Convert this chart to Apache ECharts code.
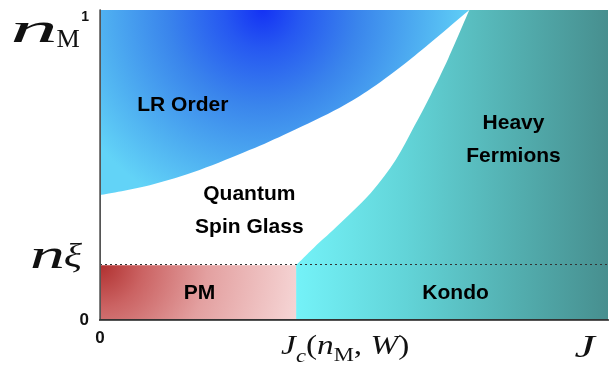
<!DOCTYPE html>
<html>
<head>
<meta charset="utf-8">
<script src="https://cdn.jsdelivr.net/npm/echarts@6/dist/echarts.min.js"></script>
<style>
  html, body { margin: 0; padding: 0; background: #fff; }
  #chart { width: 611px; height: 365px; }
</style>
</head>
<body>
<div id="chart"></div>
<script>
// Schematic phase diagram in the (J, n_M) plane, both axes normalised to [0, 1].
const nXi = 0.177;   // n_ξ : lower edge of the ordered / glassy phases
const Jc = 0.386;    // J_c(n_M, W)

// Lower edge of the long-range ordered phase
const lrBoundary = [
  [0.000, 0.403], [0.098, 0.435], [0.196, 0.484], [0.294, 0.548],
  [0.373, 0.606], [0.471, 0.684], [0.535, 0.748], [0.614, 0.845],
  [0.727, 1.000]
];
// Left edge of the heavy-fermion phase, from (J_c, n_ξ) up to n_M = 1
const hfBoundary = [
  [0.386, 0.177], [0.422, 0.235], [0.465, 0.300], [0.533, 0.410],
  [0.582, 0.516], [0.618, 0.623], [0.651, 0.726], [0.686, 0.845],
  [0.727, 1.000]
];
// Corners of the Kondo / heavy-fermion block, the PM rectangle and the LR block: [x0, y0, x1, y1]
const kondoRect = [Jc, 0, 1, 1];
const pmRect = [0, 0, Jc, nXi];
const lrTopLeft = [0, 1];

const yTickLabels = { 0: '0', 1: '1' };
const xTickLabels = { 0: '0' };

const phaseNames = ['LR Order', 'Quantum\nSpin Glass', 'Heavy\nFermions', 'PM', 'Kondo'];
const phaseLabelX = [0.163, 0.294, 0.814, 0.196, 0.700];
const phaseLabelY = [0.694, 0.352, 0.581, 0.087, 0.087];

const chart = echarts.init(document.getElementById('chart'));

function rectItem(fill) {
  return function (params, api) {
    const p0 = api.coord([api.value(0), api.value(1)]);
    const p1 = api.coord([api.value(2), api.value(3)]);
    return {
      type: 'rect',
      shape: { x: p0[0], y: p1[1], width: p1[0] - p0[0], height: p0[1] - p1[1] },
      style: { fill: fill }
    };
  };
}

// Smooth cubic path through a list of pixel points (Catmull-Rom)
function smoothThrough(pts) {
  let d = '';
  for (let i = 0; i < pts.length - 1; i++) {
    const p0 = pts[Math.max(i - 1, 0)], p1 = pts[i], p2 = pts[i + 1];
    const p3 = pts[Math.min(i + 2, pts.length - 1)];
    const c1 = [p1[0] + (p2[0] - p0[0]) / 6, p1[1] + (p2[1] - p0[1]) / 6];
    const c2 = [p2[0] - (p3[0] - p1[0]) / 6, p2[1] - (p3[1] - p1[1]) / 6];
    d += ' C' + c1[0] + ' ' + c1[1] + ' ' + c2[0] + ' ' + c2[1] + ' ' + p2[0] + ' ' + p2[1];
  }
  return d;
}

const tealFill = {
  type: 'linear', x: 0, y: 0, x2: 1, y2: 0,
  colorStops: [
    { offset: 0, color: '#74f2f8' },
    { offset: 0.35, color: '#62d4d8' },
    { offset: 0.7, color: '#53afb0' },
    { offset: 1, color: '#478f8f' }
  ]
};
const blueFill = {
  type: 'radial', x: 0.44, y: 0.0, r: 1.15,
  colorStops: [
    { offset: 0, color: '#1432f4' },
    { offset: 0.18, color: '#2658f1' },
    { offset: 0.45, color: '#3a85ec' },
    { offset: 0.75, color: '#4fb0f1' },
    { offset: 1, color: '#62d3f7' }
  ]
};
const pmFill = {
  type: 'radial', x: 0, y: 0, r: 3.9,
  colorStops: [
    { offset: 0, color: '#b0302f' },
    { offset: 0.2, color: '#cb6363' },
    { offset: 0.5, color: '#e3a0a0' },
    { offset: 1, color: '#f8dcdc' }
  ]
};

const frameLine = { show: true, lineStyle: { color: '#555', width: 1 } };

chart.setOption({
  animation: false,
  grid: { left: 100, right: 1, top: 10, bottom: 45 },
  xAxis: [
    {
      type: 'value', min: 0, max: 1, interval: 1, z: 10,
      axisLine: { show: true, lineStyle: { color: '#333', width: 2 } },
      axisTick: { show: false },
      splitLine: { show: false },
      axisLabel: {
        margin: 10, fontSize: 17, fontWeight: 'bold', color: '#111',
        fontFamily: 'Liberation Sans',
        formatter: v => xTickLabels[v] || ''
      }
    },
    {
      type: 'value', min: 0, max: 1, position: 'top', z: 10,
      axisLine: frameLine, axisTick: { show: false },
      axisLabel: { show: false }, splitLine: { show: false }
    }
  ],
  yAxis: [
    {
      type: 'value', min: 0, max: 1, interval: 1, z: 10,
      axisLine: { show: true, lineStyle: { color: '#555', width: 1.5 } },
      axisTick: { show: false },
      splitLine: { show: false },
      axisLabel: {
        margin: 11, color: '#111', fontFamily: 'Liberation Sans', fontWeight: 'bold',
        formatter: v => v === 1 ? '{hi|' + yTickLabels[v] + '}' : '{lo|' + (yTickLabels[v] || '') + '}',
        rich: {
          hi: { fontSize: 14, fontWeight: 'bold', padding: [14, 0, 0, 0] },
          lo: { fontSize: 17, fontWeight: 'bold' }
        }
      }
    },
    {
      type: 'value', min: 0, max: 1, position: 'right', z: 10,
      axisLine: frameLine, axisTick: { show: false },
      axisLabel: { show: false }, splitLine: { show: false }
    }
  ],
  series: [
    {
      // Kondo (below n_ξ) and heavy fermions (right of the boundary) share one fill
      name: 'Heavy Fermions / Kondo', type: 'custom', silent: true,
      encode: { x: [0, 2], y: [1, 3] },
      data: [kondoRect],
      renderItem: function (params, api) {
        const x0 = api.value(0), y0 = api.value(1), x1 = api.value(2), y1 = api.value(3);
        const a = api.coord([x0, y0]);
        const edge = hfBoundary.map(p => api.coord(p));
        const b = api.coord([x1, y1]);
        const c = api.coord([x1, y0]);
        const d = 'M' + a[0] + ' ' + a[1] +
          ' L' + edge[0][0] + ' ' + edge[0][1] +
          smoothThrough(edge) +
          ' L' + b[0] + ' ' + b[1] +
          ' L' + c[0] + ' ' + c[1] + ' Z';
        return { type: 'path', shape: { pathData: d }, style: { fill: tealFill } };
      }
    },
    {
      // Long-range order: everything above its lower boundary
      name: 'LR Order', type: 'custom', silent: true,
      encode: { x: 0, y: 1 },
      data: [lrTopLeft],
      renderItem: function (params, api) {
        const corner = api.coord([api.value(0), api.value(1)]);
        const edge = lrBoundary.map(p => api.coord(p));
        const d = 'M' + corner[0] + ' ' + corner[1] +
          ' L' + edge[0][0] + ' ' + edge[0][1] +
          smoothThrough(edge) + ' Z';
        return { type: 'path', shape: { pathData: d }, style: { fill: blueFill } };
      }
    },
    {
      name: 'PM', type: 'custom', silent: true,
      renderItem: rectItem(pmFill),
      encode: { x: [0, 2], y: [1, 3] },
      data: [pmRect],
      markLine: {
        silent: true, symbol: 'none', label: { show: false },
        lineStyle: { type: [2, 3], color: '#333', width: 1.2 },
        data: [{ yAxis: nXi }]
      }
    },
    {
      name: 'phases', type: 'scatter', silent: true, z: 5,
      symbolSize: 0,
      itemStyle: { opacity: 1 },
      data: phaseNames.map((n, i) => ({ name: n, value: [phaseLabelX[i], phaseLabelY[i]] })),
      label: {
        show: true, position: 'inside', formatter: '{b}', opacity: 1,
        fontFamily: 'Liberation Sans', fontWeight: 'bold', fontSize: 21,
        lineHeight: 33, color: '#000', textBorderWidth: 0
      }
    }
  ]
});

// Axis symbols set in math type, anchored to the axis positions
const toPx = v => chart.convertToPixel({ gridIndex: 0 }, v);
const pTop = toPx([0, 1]);
const pXi = toPx([0, nXi]);
const pJc = toPx([Jc, 0]);
const pEnd = toPx([1, 0]);
const serif = 'Liberation Serif';

// Size and stretch a single glyph so its ink fills the box [left, top, right, bottom]
const probeCtx = document.createElement('canvas').getContext('2d');
function glyph(ch, italic, anchor, box) {
  const probe = 100;
  probeCtx.font = (italic ? 'italic ' : '') + probe + 'px "' + serif + '"';
  probeCtx.textBaseline = 'middle';
  probeCtx.textAlign = 'left';
  const m = probeCtx.measureText(ch);
  const inkH = m.actualBoundingBoxAscent + m.actualBoundingBoxDescent;
  const k = (box[3] - box[1]) / inkH;
  const inkW = (m.actualBoundingBoxLeft + m.actualBoundingBoxRight) * k;
  const sx = (box[2] - box[0]) / inkW;
  return {
    type: 'text', silent: true, z: 20,
    x: anchor[0] + box[0] + m.actualBoundingBoxLeft * k * sx,
    y: anchor[1] + box[3] - m.actualBoundingBoxDescent * k,
    scaleX: sx,
    style: {
      text: ch, fontFamily: serif, fontSize: probe * k,
      fontStyle: italic ? 'italic' : 'normal',
      fill: '#111', align: 'left', verticalAlign: 'middle'
    }
  };
}

chart.setOption({
  graphic: [
    glyph('n', true, pTop, [-87, 12, -46, 32]),
    glyph('M', false, pTop, [-43, 21, -21, 37]),
    glyph('n', true, pXi, [-68, -17, -38, 3]),
    glyph('ξ', true, pXi, [-35, -22, -18, 8]),
    {
      type: 'text', x: pJc[0] - 15, y: pJc[1] + 13, scaleX: 1.19, silent: true, z: 20,
      style: {
        text: '{i|J}{s|c}{r|(}{i|n}{sr|M}{r|, }{i|W}{r|)}',
        fill: '#111', align: 'left', verticalAlign: 'top',
        rich: {
          i: { fontFamily: serif, fontStyle: 'italic', fontSize: 28, verticalAlign: 'bottom', padding: [0, 0, 5, 0] },
          r: { fontFamily: serif, fontSize: 28, verticalAlign: 'bottom', padding: [0, 0, 5, 0] },
          s: { fontFamily: serif, fontStyle: 'italic', fontSize: 19, verticalAlign: 'bottom' },
          sr: { fontFamily: serif, fontSize: 19, verticalAlign: 'bottom' }
        }
      }
    },
    glyph('J', true, pEnd, [-33, 17, -11, 38])
  ]
});
</script>
</body>
</html>
